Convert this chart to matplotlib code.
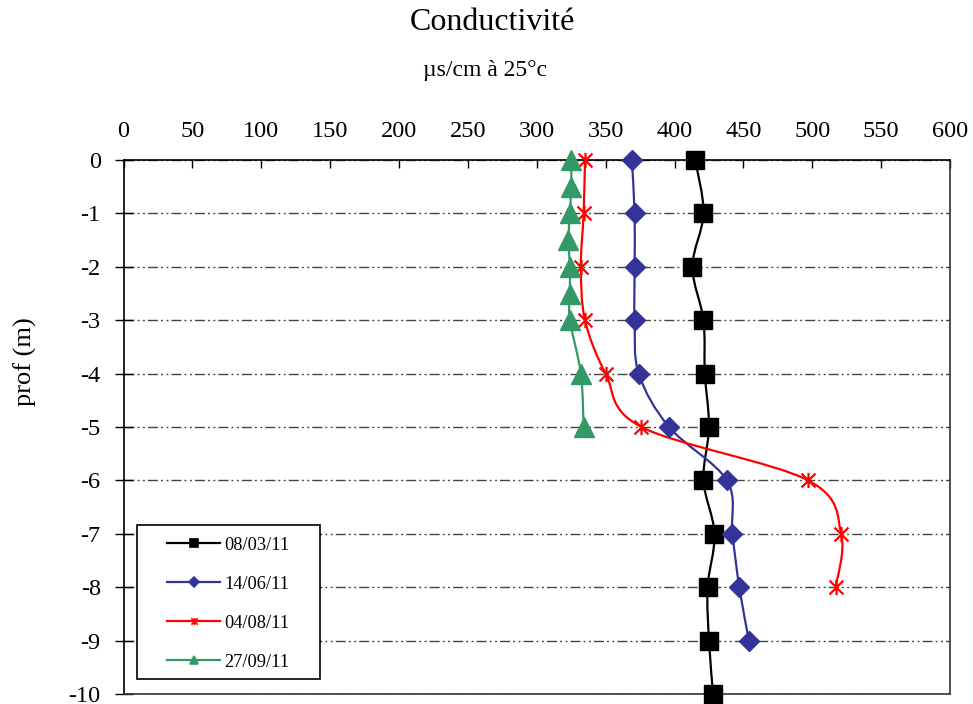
import numpy as np
import matplotlib
matplotlib.use("Agg")
import matplotlib.pyplot as plt
from matplotlib.path import Path
from matplotlib.patches import PathPatch, Rectangle
from matplotlib.lines import Line2D

plt.rcParams['font.family'] = ['Liberation Serif', 'DejaVu Serif']
plt.rcParams['axes.unicode_minus'] = False

# Conductivity profiles (µS/cm at 25 °C) versus depth (m)
depth_main = [0, -1, -2, -3, -4, -5, -6, -7, -8, -9, -10]
cond_0803 = [415, 421, 413, 421, 422, 425, 421, 429, 424, 425, 428]

depth_0614 = [0, -1, -2, -3, -4, -5, -6, -7, -8, -9]
cond_0614 = [369, 371, 371, 371, 374, 396, 438, 442, 447, 454]

depth_0408 = [0, -1, -2, -3, -4, -5, -6, -7, -8]
cond_0408 = [335, 334, 332, 335, 350, 376, 497, 521, 517]

depth_2709 = [0, -0.5, -1, -1.5, -2, -2.5, -3, -4, -5]
cond_2709 = [325, 325, 324, 323, 324, 324, 324, 332, 334]

series_labels = ['08/03/11', '14/06/11', '04/08/11', '27/09/11']
x_ticks = list(range(0, 601, 50))
y_ticks = list(range(0, -11, -1))

colors = ['#000000', '#333399', '#FF0000', '#339966']

# asterisk marker: an X with a vertical stroke
star_path = Path(
    [(-1, -1), (1, 1), (-1, 1), (1, -1), (0, -1.1), (0, 1.1)],
    [Path.MOVETO, Path.LINETO, Path.MOVETO, Path.LINETO, Path.MOVETO, Path.LINETO])


def smooth_path(xs, ys):
    """Catmull-Rom style cubic Bezier path through the points."""
    p = np.column_stack([xs, ys]).astype(float)
    n = len(p)
    verts = [p[0]]
    codes = [Path.MOVETO]
    for i in range(n - 1):
        p0 = p[i - 1] if i > 0 else p[i]
        p1 = p[i]
        p2 = p[i + 1]
        p3 = p[i + 2] if i + 2 < n else p[i + 1]
        c1 = p1 + (p2 - p0) / 6.0
        c2 = p2 - (p3 - p1) / 6.0
        verts += [c1, c2, p2]
        codes += [Path.CURVE4] * 3
    return Path(verts, codes)


fig = plt.figure(figsize=(9.73, 7.04), dpi=100)
ax = fig.add_axes([0.127, 0.0142, 0.8494, 0.7585])

series = [
    (cond_0803, depth_main, 's', 12.5, {}),
    (cond_0614, depth_0614, 'D', 10.5, {}),
    (cond_0408, depth_0408, star_path, 11, {'markeredgewidth': 1.6}),
    (cond_2709, depth_2709, '^', 14, {}),
]

handles = []
for (xs, ys, mk, ms, extra), col, lab in zip(series, colors, series_labels):
    ax.add_patch(PathPatch(smooth_path(xs, ys), facecolor='none',
                           edgecolor=col, lw=1.6, zorder=3))
    ax.plot(xs, ys, linestyle='none', marker=mk, markersize=ms, color=col,
            markeredgecolor=col, zorder=4, clip_on=False, **extra)
    small = {'s': 6, 'D': 5, '^': 6}.get(mk, 6) if isinstance(mk, str) else 5
    handles.append(Line2D([], [], color=col, lw=1.6, marker=mk,
                          markersize=small, markeredgecolor=col,
                          markeredgewidth=1.2, label=lab))

ax.set_xlim(0, 600)
ax.set_ylim(-10, 0)
ax.set_xticks(x_ticks)
ax.set_yticks(y_ticks)
ax.set_yticklabels([str(v) for v in y_ticks])
ax.xaxis.tick_top()
ax.xaxis.set_label_position('top')
ax.tick_params(axis='x', direction='in', length=6, width=1, pad=13,
               labelsize=17.5, top=True, bottom=False)
ax.tick_params(axis='y', direction='inout', length=13, width=1, pad=10,
               labelsize=17.5)

for side in ['left', 'top']:
    ax.spines[side].set_color('#000000')
for side in ['right', 'bottom']:
    ax.spines[side].set_color('#333333')
for sp in ax.spines.values():
    sp.set_linewidth(1.2)

ax.yaxis.grid(True, color='#444444', lw=1,
              linestyle=(0, (7.2, 2.2, 1.4, 2.5, 1.4, 2.2)))
ax.set_axisbelow(True)

# legend box drawn as a plain rectangle, entries placed inside it
ax.add_patch(Rectangle((0.0163, 0.028), 0.221, 0.288, transform=ax.transAxes,
                       facecolor='white', edgecolor='#000000', lw=1.2,
                       zorder=5))
leg = ax.legend(handles=handles, loc='upper left',
                bbox_to_anchor=(0.0526, 0.2945), fontsize=13.2, frameon=False,
                handlelength=2.9, handletextpad=0.2, labelspacing=1.2,
                borderpad=0, borderaxespad=0)
leg.set_zorder(6)

fig.text(0.506, 0.968, 'Conductivité', ha='center', va='center', fontsize=23)
fig.text(0.498, 0.900, 'µs/cm à 25°c', ha='center', va='center', fontsize=17)
fig.text(0.026, 0.486, 'prof (m)', ha='center', va='center', rotation=90,
         fontsize=19)

fig.savefig('out.png', dpi=100)
